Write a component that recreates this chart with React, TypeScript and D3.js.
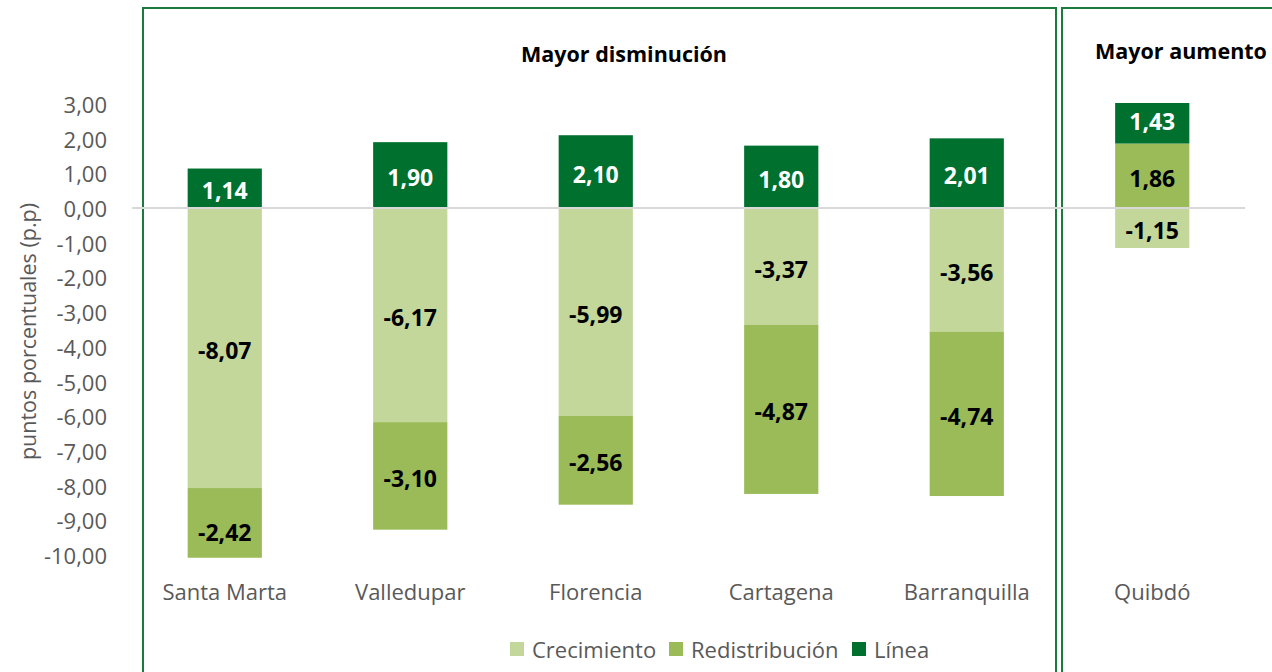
import * as d3 from "d3";

const categories = ["Santa Marta", "Valledupar", "Florencia", "Cartagena", "Barranquilla", "Quibdó"];
const crecimiento = [-8.07, -6.17, -5.99, -3.37, -3.56, -1.15];
const redistribucion = [-2.42, -3.1, -2.56, -4.87, -4.74, 1.86];
const linea = [1.14, 1.9, 2.1, 1.8, 2.01, 1.43];
const seriesNames = ["Crecimiento", "Redistribución", "Línea"];
const seriesColors = ["#c4d79b", "#9bbb59", "#00702f"];
const labelColors = ["#000000", "#000000", "#ffffff"];
const yTicks = [3, 2, 1, 0, -1, -2, -3, -4, -5, -6, -7, -8, -9, -10];

const W = 1272;
const H = 672;
const FONT = "'Open Sans', 'Noto Sans', sans-serif";
const BOX = "#1b7a3e";

const locale = d3.formatLocale({ decimal: ",", thousands: ".", grouping: [3], currency: ["", ""], minus: "-" });
const fmt = locale.format(".2f");

export default function App() {
  const x = d3.scaleBand<string>().domain(categories).range([132, 1245]).paddingInner(0.6).paddingOuter(0.3);
  const y = d3.scaleLinear().domain([-10, 3]).range([555, 104]);

  const rows = categories.map((c, i) => ({
    cat: c,
    Crecimiento: crecimiento[i],
    "Redistribución": redistribucion[i],
    "Línea": linea[i],
  }));
  const stacked = d3.stack<any>().keys(seriesNames).offset(d3.stackOffsetDiverging)(rows);

  const legendX = [510, 669, 852];

  return (
    <svg width={W} height={H} style={{ position: "absolute", left: 0, top: 0, background: "#fff" }}>
      <defs>
        <clipPath id="plot">
          <rect x={0} y={y(3) - 1} width={W} height={y(-10.08) - y(3) + 1} />
        </clipPath>
      </defs>

      {/* panel boxes */}
      <rect x={143} y={8} width={913} height={H + 20} fill="none" stroke={BOX} strokeWidth={2} />
      <rect x={1062} y={8} width={W} height={H + 20} fill="none" stroke={BOX} strokeWidth={2} />

      <text x={624} y={53} textAnchor="middle" dominantBaseline="central" fontFamily={FONT} fontWeight="bold" fontSize={21.5} fill="#000">
        Mayor disminución
      </text>
      <text x={1181} y={50} textAnchor="middle" dominantBaseline="central" fontFamily={FONT} fontWeight="bold" fontSize={21.5} fill="#000">
        Mayor aumento
      </text>

      {/* y axis labels */}
      {yTicks.map((t) => (
        <text key={t} x={107} y={y(t)} textAnchor="end" dominantBaseline="central" fontFamily={FONT} fontSize={22} fill="#595959">
          {fmt(t)}
        </text>
      ))}
      <text
        transform={`translate(27,${(y(3) + y(-10)) / 2 + 2}) rotate(-90)`}
        textAnchor="middle"
        dominantBaseline="central"
        fontFamily={FONT}
        fontSize={21.5}
        fill="#595959"
      >
        puntos porcentuales (p.p)
      </text>

      {/* bars */}
      <g clipPath="url(#plot)">
        {stacked.map((s, si) =>
          s.map((d, i) => (
            <rect
              key={`${si}-${i}`}
              x={x(categories[i])}
              y={y(Math.max(d[0], d[1]))}
              width={x.bandwidth()}
              height={Math.abs(y(d[0]) - y(d[1]))}
              fill={seriesColors[si]}
            />
          ))
        )}
      </g>

      {/* zero line */}
      <line x1={132} x2={1245} y1={y(0)} y2={y(0)} stroke="#d9d9d9" strokeWidth={2} />

      {/* data labels */}
      {stacked.map((s, si) =>
        s.map((d, i) => (
          <text
            key={`l${si}-${i}`}
            x={(x(categories[i]) as number) + x.bandwidth() / 2}
            y={y((d[0] + d[1]) / 2) + 2}
            textAnchor="middle"
            dominantBaseline="central"
            fontFamily={FONT}
            fontWeight="bold"
            fontSize={23}
            fill={labelColors[si]}
          >
            {fmt(d.data[seriesNames[si]])}
          </text>
        ))
      )}

      {/* category labels */}
      {categories.map((c) => (
        <text
          key={c}
          x={(x(c) as number) + x.bandwidth() / 2}
          y={591}
          textAnchor="middle"
          dominantBaseline="central"
          fontFamily={FONT}
          fontSize={22}
          fill="#595959"
        >
          {c}
        </text>
      ))}

      {/* legend */}
      {seriesNames.map((n, i) => (
        <g key={n} transform={`translate(${legendX[i]},649)`}>
          <rect x={0} y={-7} width={14} height={14} fill={seriesColors[i]} />
          <text x={22} y={0} dominantBaseline="central" fontFamily={FONT} fontSize={22} fill="#595959">
            {n}
          </text>
        </g>
      ))}
    </svg>
  );
}
